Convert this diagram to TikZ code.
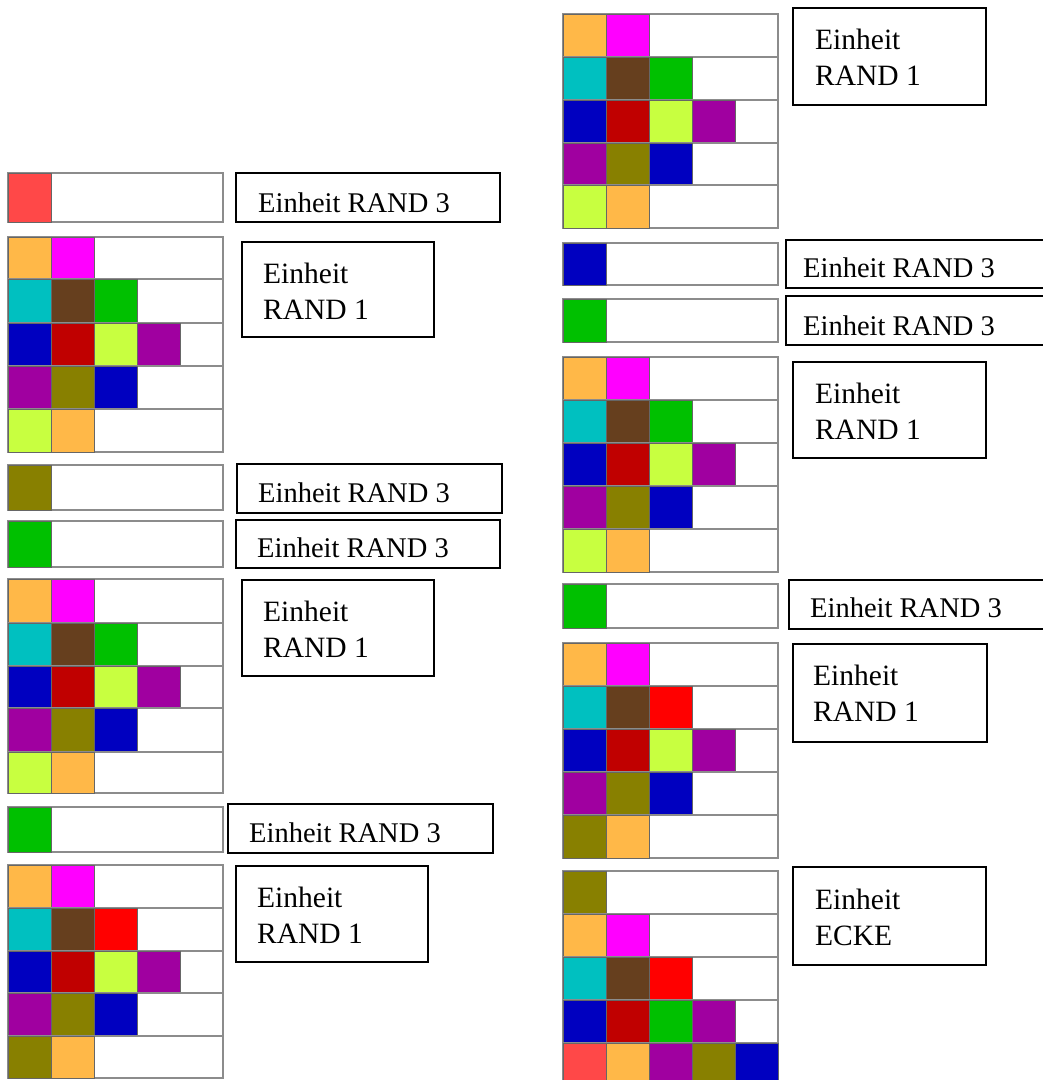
\documentclass[tikz,border=0pt]{standalone}
\usepackage{fontspec}
\setmainfont{Liberation Serif}
\definecolor{cO}{RGB}{255,184,72}
\definecolor{cM}{RGB}{255,0,255}
\definecolor{cC}{RGB}{0,192,192}
\definecolor{cB}{RGB}{102,63,30}
\definecolor{cG}{RGB}{0,192,0}
\definecolor{cBl}{RGB}{0,0,192}
\definecolor{cDR}{RGB}{192,0,0}
\definecolor{cL}{RGB}{200,255,64}
\definecolor{cP}{RGB}{160,0,160}
\definecolor{cOl}{RGB}{136,128,0}
\definecolor{cR}{RGB}{255,0,0}
\definecolor{cLR}{RGB}{255,72,72}
\tikzset{
  rowframe/.style={draw=black!45, line width=1.6pt, fill=white},
  cell/.style={draw=black!60, line width=1pt},
  labbox/.style={draw=black, line width=2.6pt},
  txtthree/.style={anchor=base west, inner sep=0pt, font=\fontsize{28.5}{34}\selectfont},
  txtone/.style={anchor=base west, inner sep=0pt, align=left, font=\fontsize{29.5}{36}\selectfont},
}
\newcommand{\tilerow}[4]{%
  \draw[rowframe] (#1,#2) rectangle (#1+215,#3);
  \foreach \c [count=\i from 0] in {#4}
    \draw[cell, fill=\c] ({#1+43*\i},#2) rectangle ({#1+43*\i+43},#3);
}
\newcommand{\gridstd}[7]{%
  \tilerow{#1}{#2}{#3}{cO,cM}
  \tilerow{#1}{#3}{#4}{cC,cB,cG}
  \tilerow{#1}{#4}{#5}{cBl,cDR,cL,cP}
  \tilerow{#1}{#5}{#6}{cP,cOl,cBl}
  \tilerow{#1}{#6}{#7}{cL,cO}
}
\newcommand{\gridalt}[7]{%
  \tilerow{#1}{#2}{#3}{cO,cM}
  \tilerow{#1}{#3}{#4}{cC,cB,cR}
  \tilerow{#1}{#4}{#5}{cBl,cDR,cL,cP}
  \tilerow{#1}{#5}{#6}{cP,cOl,cBl}
  \tilerow{#1}{#6}{#7}{cOl,cO}
}
\begin{document}
\begin{tikzpicture}[x=1pt,y=-1pt]
\clip (0,0) rectangle (1043,1080);
\fill[white] (0,0) rectangle (1043,1080);
% ---------- left column ----------
\tilerow{8}{173}{222}{cLR}
\gridstd{8}{237}{279}{323}{366}{409}{452}
\tilerow{8}{465}{510}{cOl}
\tilerow{8}{521}{567}{cG}
\gridstd{8}{579}{623}{666}{708}{752}{793}
\tilerow{8}{807}{852}{cG}
\gridalt{8}{865}{908}{951}{993}{1036}{1078}
% ---------- right column ----------
\gridstd{563}{14}{57}{100}{143}{185}{228}
\tilerow{563}{243}{285}{cBl}
\tilerow{563}{299}{342}{cG}
\gridstd{563}{357}{400}{443}{486}{529}{572}
\tilerow{563}{584}{628}{cG}
\gridalt{563}{643}{686}{729}{772}{815}{858}
\tilerow{563}{871}{914}{cOl}
\tilerow{563}{914}{957}{cO,cM}
\tilerow{563}{957}{1000}{cC,cB,cR}
\tilerow{563}{1000}{1043}{cBl,cDR,cG,cP}
\tilerow{563}{1043}{1086}{cLR,cO,cP,cOl,cBl}
% ---------- labels left ----------
\draw[labbox] (236,173) rectangle (500,222);
\node[txtthree] (t1) at (258,212) {Einheit RAND 3};
\draw[labbox] (242,242) rectangle (434,337);
\node[txtone] (t2) at (263,319) {Einheit\\RAND 1};
\draw[labbox] (237,464) rectangle (502,513);
\node[txtthree] (t3) at (258,502) {Einheit RAND 3};
\draw[labbox] (236,520) rectangle (500,568);
\node[txtthree] (t4) at (257,557) {Einheit RAND 3};
\draw[labbox] (242,580) rectangle (434,676);
\node[txtone] (t5) at (263,657) {Einheit\\RAND 1};
\draw[labbox] (228,804) rectangle (493,853);
\node[txtthree] (t6) at (249,842) {Einheit RAND 3};
\draw[labbox] (236,866) rectangle (428,962);
\node[txtone] (t7) at (257,943) {Einheit\\RAND 1};
% ---------- labels right ----------
\draw[labbox] (793,8) rectangle (986,105);
\node[txtone] (r1) at (815,85) {Einheit\\RAND 1};
\draw[labbox] (786,240) rectangle (1060,288);
\node[txtthree] (r2) at (803,277) {Einheit RAND 3};
\draw[labbox] (786,296) rectangle (1060,345);
\node[txtthree] (r3) at (803,335) {Einheit RAND 3};
\draw[labbox] (793,362) rectangle (986,458);
\node[txtone] (r4) at (815,439) {Einheit\\RAND 1};
\draw[labbox] (789,580) rectangle (1060,629);
\node[txtthree] (r5) at (810,617) {Einheit RAND 3};
\draw[labbox] (793,644) rectangle (987,742);
\node[txtone] (r6) at (813,721) {Einheit\\RAND 1};
\draw[labbox] (793,867) rectangle (986,965);
\node[txtone] (r7) at (815,945) {Einheit\\ECKE};
\end{tikzpicture}
\end{document}
